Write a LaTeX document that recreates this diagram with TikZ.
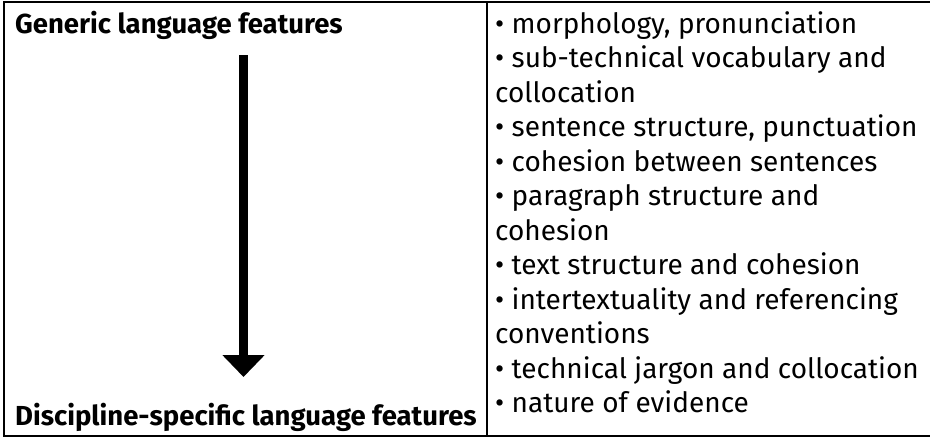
\documentclass[tikz,border=0pt]{standalone}
\usepackage{fontspec}
\setmainfont{Fira Sans}
\usetikzlibrary{arrows.meta}

\begin{document}
\begin{tikzpicture}[x=1pt,y=-1pt,every node/.style={inner sep=0pt,anchor=base west},
    head/.style={font=\fontsize{27.5}{30}\selectfont\bfseries},
    item/.style={font=\fontsize{28}{34}\selectfont},
    rule/.style={line width=1.5pt},
    >={Triangle[width=41pt,length=22pt]}]
  \useasboundingbox (0,0) rectangle (930,439);
  % frame of the table
  \draw[rule](930,2)--(4,2)--(4,436)--(930,436);
  \draw[rule](487,2)--(487,436);
  % left column
  \node[head] (generic) at (15,33) {Generic language features};
  \node[head] (specific) at (15,425) {Discipline-specific language features};
  \coordinate (top) at (243.5,55);
  \coordinate (tip) at (243.5,377);
  \draw[->,line width=9pt](top)--(tip);
  % right column, one line every 34.5pt
  \foreach \txt [count=\i from 0] in {{• morphology, pronunciation},
      {• sub-technical vocabulary and},{collocation},
      {• sentence structure, punctuation},{• cohesion between sentences},
      {• paragraph structure and},{cohesion},
      {• text structure and cohesion},{• intertextuality and referencing},
      {conventions},{• technical jargon and collocation},
      {• nature of evidence}}
    \node[item] (f\i) at (495,33+34.5*\i) {\txt};
\end{tikzpicture}
\end{document}
